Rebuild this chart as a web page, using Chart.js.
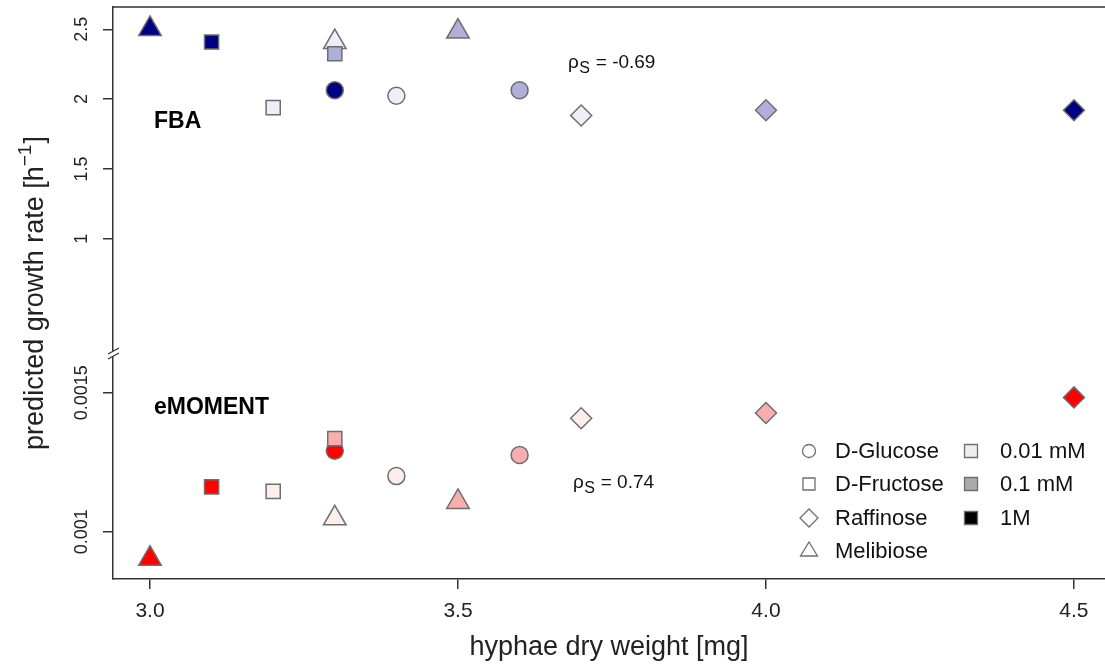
<!DOCTYPE html>
<html><head><meta charset="utf-8">
<script src="https://cdn.jsdelivr.net/npm/chart.js@4.4.0/dist/chart.umd.min.js"></script>
<style>html,body{margin:0;padding:0;background:#fff;overflow:hidden}#wrap{width:1105px;height:664px}</style>
</head><body><div id="wrap"><canvas id="c" width="1105" height="664"></canvas></div>
<script>
// ---------- data ----------
const sugars = ['D-Glucose', 'D-Fructose', 'Raffinose', 'Melibiose'];
const concentrations = ['0.01 mM', '0.1 mM', '1M'];
// dry weight [mg] per sugar, in concentration order 0.01 mM, 0.1 mM, 1M
const weightGlucose   = [3.4, 3.6, 3.3];
const weightFructose  = [3.2, 3.3, 3.1];
const weightRaffinose = [3.7, 4.0, 4.5];
const weightMelibiose = [3.3, 3.5, 3.0];
// FBA predicted growth rate
const fbaGlucose   = [2.024, 2.064, 2.064];
const fbaFructose  = [1.939, 2.325, 2.409];
const fbaRaffinose = [1.883, 1.920, 1.920];
const fbaMelibiose = [2.409, 2.484, 2.503];
// eMOMENT predicted growth rate
const emGlucose   = [0.001200, 0.001276, 0.001291];
const emFructose  = [0.001145, 0.001335, 0.001161];
const emRaffinose = [0.001408, 0.001427, 0.001483];
const emMelibiose = [0.001048, 0.001107, 0.000903];
// ticks
const xTicks = [3.0, 3.5, 4.0, 4.5];
const fbaTicks = [1, 1.5, 2, 2.5];
const emTicks = [0.001, 0.0015];
const fbaTickLabels = ['1', '1.5', '2', '2.5'];
const emTickLabels = ['0.001', '0.0015'];
const rhoFBA = '-0.69';
const rhoEM = '0.74';

// ---------- styles ----------
const blues = ['#EEEEF7', '#AFAFDA', '#000080'];
const reds = ['#FDEDED', '#F8AEAE', '#FF0000'];
const greys = ['#EEEEEE', '#AAAAAA', '#000000'];
const shapeOf = {'D-Glucose': 'circle', 'D-Fructose': 'rect', 'Raffinose': 'rectRot', 'Melibiose': 'triangle'};
const radiusOf = {'circle': 8.5, 'rect': 10, 'rectRot': 10.5, 'triangle': 13};
const edge = '#6E6E6E';
const FONT = '"Liberation Sans", Arial, sans-serif';

const weights = {'D-Glucose': weightGlucose, 'D-Fructose': weightFructose, 'Raffinose': weightRaffinose, 'Melibiose': weightMelibiose};
const fbaVals = {'D-Glucose': fbaGlucose, 'D-Fructose': fbaFructose, 'Raffinose': fbaRaffinose, 'Melibiose': fbaMelibiose};
const emVals = {'D-Glucose': emGlucose, 'D-Fructose': emFructose, 'Raffinose': emRaffinose, 'Melibiose': emMelibiose};

function mk(sugar, vals, axis, colors) {
  const shape = shapeOf[sugar];
  return {
    label: sugar + ' ' + axis,
    data: weights[sugar].map((w, i) => ({x: w, y: vals[sugar][i]})),
    yAxisID: axis,
    pointStyle: shape,
    pointRadius: radiusOf[shape],
    pointHoverRadius: radiusOf[shape],
    backgroundColor: colors,
    borderColor: edge,
    pointBorderWidth: 1.5,
    showLine: false,
    clip: false
  };
}
const fbaOrder = ['D-Glucose', 'D-Fructose', 'Raffinose', 'Melibiose'];
const emOrder = ['D-Fructose', 'Raffinose', 'Melibiose', 'D-Glucose'];
const datasets = [
  ...fbaOrder.map(s => mk(s, fbaVals, 'yFBA', blues)),
  ...emOrder.map(s => mk(s, emVals, 'yEM', reds))
];

const overlay = {
  id: 'overlay',
  afterDraw(chart) {
    const ctx = chart.ctx;
    const ca = chart.chartArea;
    const sx = chart.scales.x, sf = chart.scales.yFBA, se = chart.scales.yEM;
    ctx.save();
    // top frame line
    ctx.strokeStyle = '#333'; ctx.lineWidth = 1.5;
    ctx.beginPath(); ctx.moveTo(ca.left, ca.top); ctx.lineTo(chart.width, ca.top); ctx.stroke();
    // axis break
    const by = sf.bottom, bx = ca.left;
    ctx.fillStyle = '#fff';
    ctx.beginPath();
    ctx.moveTo(bx - 5, by + 1); ctx.lineTo(bx + 6, by - 5); ctx.lineTo(bx + 6, by + 0); ctx.lineTo(bx - 5, by + 6); ctx.closePath(); ctx.fill();
    ctx.strokeStyle = '#333'; ctx.lineWidth = 1.3;
    ctx.beginPath();
    ctx.moveTo(bx - 5, by + 1); ctx.lineTo(bx + 6, by - 5);
    ctx.moveTo(bx - 5, by + 6); ctx.lineTo(bx + 6, by + 0);
    ctx.stroke();
    // y tick labels (rotated)
    ctx.fillStyle = '#222';
    ctx.font = '18px ' + FONT;
    ctx.textAlign = 'center'; ctx.textBaseline = 'middle';
    const drawRot = (txt, x, y) => { ctx.save(); ctx.translate(x, y); ctx.rotate(-Math.PI / 2); ctx.fillText(txt, 0, 0); ctx.restore(); };
    fbaTicks.forEach((v, i) => drawRot(fbaTickLabels[i], 82, sf.getPixelForValue(v)));
    emTicks.forEach((v, i) => drawRot(emTickLabels[i], 82, se.getPixelForValue(v)));
    // y title
    ctx.save();
    ctx.translate(34, (ca.top + ca.bottom) / 2);
    ctx.rotate(-Math.PI / 2);
    const p1 = 'predicted growth rate [h', p3 = ']';
    ctx.font = '19px ' + FONT;
    const wSup = ctx.measureText('\u22121').width;
    ctx.font = '27px ' + FONT;
    const w1 = ctx.measureText(p1).width, w3 = ctx.measureText(p3).width;
    const tot = w1 + wSup + 1 + w3;
    ctx.textAlign = 'left'; ctx.textBaseline = 'alphabetic';
    let x0 = -tot / 2;
    ctx.fillText(p1, x0, 9);
    ctx.font = '19px ' + FONT;
    ctx.fillText('\u22121', x0 + w1, -3);
    ctx.font = '27px ' + FONT;
    ctx.fillText(p3, x0 + w1 + wSup + 1, 9);
    ctx.restore();
    // panel labels
    ctx.font = 'bold 23px ' + FONT;
    ctx.textAlign = 'left'; ctx.textBaseline = 'middle';
    ctx.fillStyle = '#000';
    ctx.fillText('FBA', sx.getPixelForValue(3.0065), sf.getPixelForValue(1.84));
    ctx.fillText('eMOMENT', sx.getPixelForValue(3.0065), se.getPixelForValue(0.001447));
    // rho labels
    const rho = (val, x, y) => {
      ctx.textBaseline = 'alphabetic'; ctx.textAlign = 'left'; ctx.fillStyle = '#111';
      ctx.font = '19px ' + FONT;
      ctx.fillText('\u03C1', x, y);
      const wr = ctx.measureText('\u03C1').width;
      ctx.font = '16px ' + FONT;
      ctx.fillText('S', x + wr + 0.5, y + 5);
      const ws = ctx.measureText('S').width;
      ctx.font = '19px ' + FONT;
      ctx.fillText(' = ' + val, x + wr + ws + 1, y);
    };
    rho(rhoFBA, sx.getPixelForValue(3.6786), sf.getPixelForValue(2.223));
    rho(rhoEM, sx.getPixelForValue(3.6867), se.getPixelForValue(0.0011572));
    // legend
    const rows = [451, 484, 518, 551];
    ctx.lineWidth = 1.3; ctx.strokeStyle = edge;
    ctx.font = '22px ' + FONT; ctx.textBaseline = 'middle'; ctx.textAlign = 'left'; ctx.fillStyle = '#111';
    sugars.forEach((s, i) => {
      const cx = 809, cy = rows[i];
      ctx.beginPath();
      const sh = shapeOf[s];
      if (sh === 'circle') ctx.arc(cx, cy, 6.5, 0, Math.PI * 2);
      else if (sh === 'rect') ctx.rect(cx - 6, cy - 6, 12, 12);
      else if (sh === 'rectRot') { ctx.moveTo(cx, cy - 9); ctx.lineTo(cx + 9, cy); ctx.lineTo(cx, cy + 9); ctx.lineTo(cx - 9, cy); ctx.closePath(); }
      else { ctx.moveTo(cx, cy - 9); ctx.lineTo(cx + 8.5, cy + 5); ctx.lineTo(cx - 8.5, cy + 5); ctx.closePath(); }
      ctx.stroke();
      ctx.fillStyle = '#111';
      ctx.fillText(s, 835, cy + 1);
    });
    concentrations.forEach((c, i) => {
      const cx = 971, cy = rows[i];
      ctx.fillStyle = greys[i];
      ctx.beginPath(); ctx.rect(cx - 6.5, cy - 6.5, 13, 13); ctx.fill(); ctx.stroke();
      ctx.fillStyle = '#111';
      ctx.fillText(c, 1000, cy + 1);
    });
    ctx.restore();
  }
};

new Chart(document.getElementById('c'), {
  type: 'scatter',
  data: {datasets},
  options: {
    responsive: false,
    animation: false,
    devicePixelRatio: 1,
    layout: {autoPadding: false, padding: {top: 7, right: 0, left: 0, bottom: 0}},
    plugins: {legend: {display: false}, tooltip: {enabled: false}},
    scales: {
      x: {
        type: 'linear', min: 2.93994, max: 4.5504,
        afterBuildTicks: s => { s.ticks = xTicks.map(v => ({value: v})); },
        ticks: {callback: v => v.toFixed(1), font: {size: 21, family: FONT}, color: '#222', padding: 10, maxRotation: 0, autoSkip: false},
        grid: {drawOnChartArea: false, tickLength: 10, color: '#333', lineWidth: 1.5},
        border: {color: '#333', width: 1.5},
        title: {display: true, text: 'hyphae dry weight [mg]', font: {size: 27, family: FONT}, color: '#222', padding: {top: 0, bottom: 0}},
        afterFit: s => { s.height = 85; s.paddingLeft = 0; s.paddingRight = 0; }
      },
      yFBA: {
        type: 'linear', position: 'left', stack: 'y', stackWeight: 346, weight: 1,
        min: 0.181, max: 2.66,
        afterBuildTicks: s => { s.ticks = fbaTicks.map(v => ({value: v})); },
        ticks: {display: false},
        grid: {drawOnChartArea: false, tickLength: 10, color: '#333', lineWidth: 1.5},
        border: {color: '#333', width: 1.5},
        afterFit: s => { s.width = 113; s.paddingTop = 0; s.paddingBottom = 0; }
      },
      yEM: {
        type: 'linear', position: 'left', stack: 'y', stackWeight: 226, weight: 0,
        min: 0.00082986, max: 0.0016428,
        afterBuildTicks: s => { s.ticks = emTicks.map(v => ({value: v})); },
        ticks: {display: false},
        grid: {drawOnChartArea: false, tickLength: 10, color: '#333', lineWidth: 1.5},
        border: {color: '#333', width: 1.5},
        afterFit: s => { s.width = 113; s.paddingTop = 0; s.paddingBottom = 0; }
      }
    }
  },
  plugins: [overlay]
});
</script></body></html>
